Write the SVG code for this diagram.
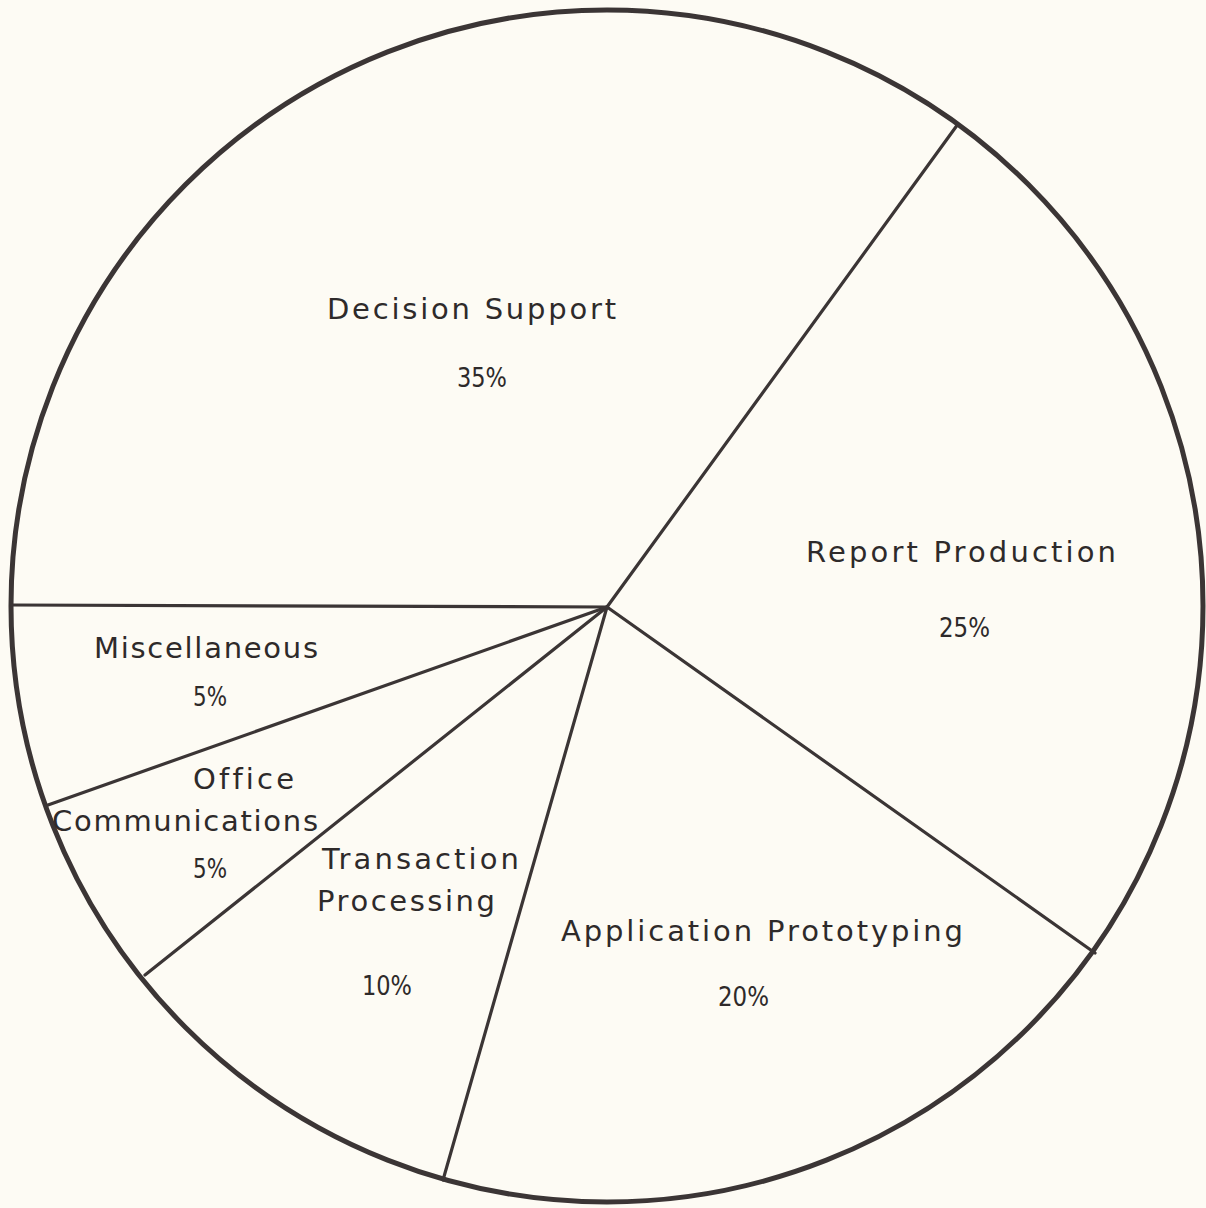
<svg xmlns="http://www.w3.org/2000/svg" width="1206" height="1208" viewBox="0 0 1206 1208">
  <style>
    .rim { fill: none; stroke: #3b3535; stroke-width: 5; }
    .spoke { fill: none; stroke: #3b3535; stroke-width: 3.2; stroke-linecap: round; }
    .lbl { font-family: "DejaVu Sans", "Liberation Sans", sans-serif; font-size: 29px; fill: #2e2a2a; font-variant-ligatures: none; }
    .pct { font-family: "DejaVu Sans", "Liberation Sans", sans-serif; font-size: 27px; fill: #2e2a2a; }
  </style>
  <rect width="1206" height="1208" fill="#fdfbf4"/>

  <!-- pie outline -->
  <g id="pie">
    <circle class="rim" cx="607" cy="606" r="596"/>
  </g>

  <!-- sector dividers, all radiating from the centre -->
  <g id="connectors">
    <line class="spoke" x1="607" y1="607" x2="958" y2="124"/>
    <line class="spoke" x1="607" y1="607" x2="1095" y2="953"/>
    <line class="spoke" x1="607" y1="607" x2="443" y2="1180"/>
    <line class="spoke" x1="607" y1="607" x2="145" y2="975"/>
    <line class="spoke" x1="607" y1="607" x2="48" y2="805"/>
    <line class="spoke" x1="607" y1="607" x2="12" y2="605"/>
  </g>

  <g id="decision-support">
    <text class="lbl" x="327" y="319" textLength="289" lengthAdjust="spacing">Decision Support</text>
    <text class="pct" x="457" y="387" textLength="50" lengthAdjust="spacingAndGlyphs">35%</text>
  </g>

  <g id="report-production">
    <text class="lbl" x="806" y="562" textLength="310" lengthAdjust="spacing">Report Production</text>
    <text class="pct" x="939" y="637" textLength="51" lengthAdjust="spacingAndGlyphs">25%</text>
  </g>

  <g id="application-prototyping">
    <text class="lbl" x="561" y="941" textLength="402" lengthAdjust="spacing">Application Prototyping</text>
    <text class="pct" x="718" y="1006" textLength="51" lengthAdjust="spacingAndGlyphs">20%</text>
  </g>

  <g id="transaction-processing">
    <text class="lbl" x="322" y="869" textLength="197" lengthAdjust="spacing">Transaction</text>
    <text class="lbl" x="317" y="911" textLength="178" lengthAdjust="spacing">Processing</text>
    <text class="pct" x="362" y="995" textLength="50" lengthAdjust="spacingAndGlyphs">10%</text>
  </g>

  <g id="office-communications">
    <text class="lbl" x="193" y="789" textLength="101" lengthAdjust="spacing">Office</text>
    <text class="lbl" x="52" y="831" textLength="266" lengthAdjust="spacing">Communications</text>
    <text class="pct" x="193" y="878" textLength="34" lengthAdjust="spacingAndGlyphs">5%</text>
  </g>

  <g id="miscellaneous">
    <text class="lbl" x="94" y="658" textLength="224" lengthAdjust="spacing">Miscellaneous</text>
    <text class="pct" x="193" y="706" textLength="34" lengthAdjust="spacingAndGlyphs">5%</text>
  </g>
</svg>
